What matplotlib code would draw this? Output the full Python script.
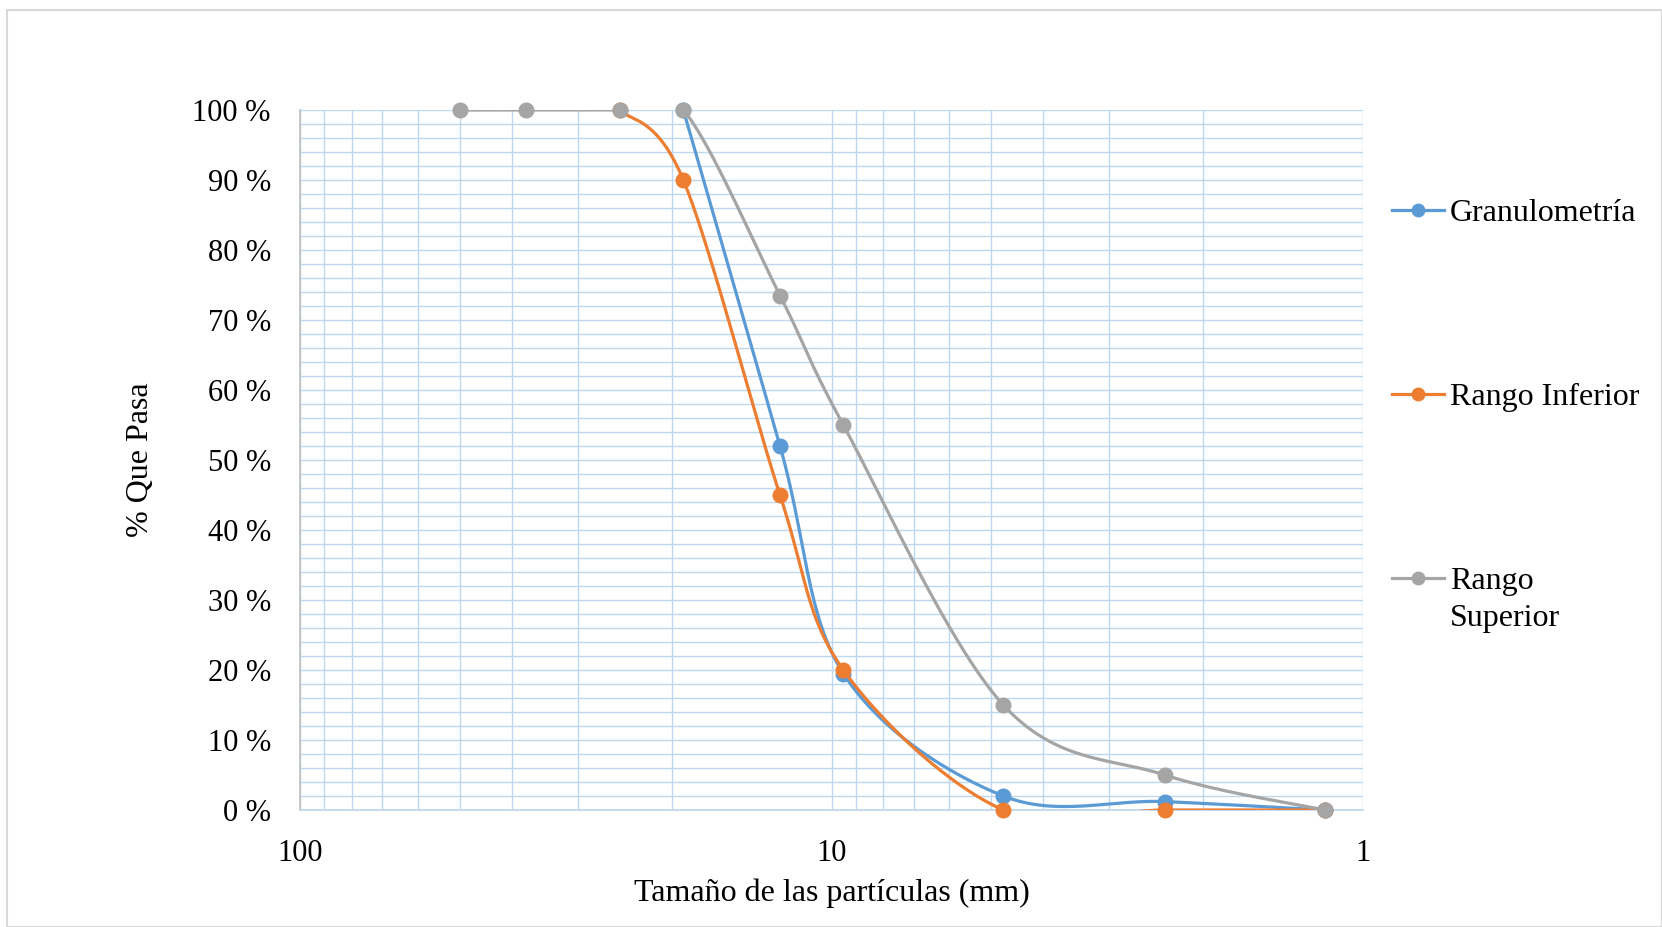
import numpy as np
import matplotlib
matplotlib.use("Agg")
import matplotlib.pyplot as plt
from matplotlib.lines import Line2D
from matplotlib.patches import Rectangle
from matplotlib.ticker import FixedLocator, MultipleLocator, FuncFormatter, NullFormatter

# ---- data ----
gran_size = [19, 12.5, 9.5, 4.75, 2.36, 1.18]
gran_pass = [100, 52, 19.5, 2, 1.2, 0]

inf_size = [25, 19, 12.5, 9.5, 4.75, 2.36, 1.18]
inf_pass = [100, 90, 45, 20, 0, 0, 0]

sup_size = [50, 37.5, 25, 19, 12.5, 9.5, 4.75, 2.36, 1.18]
sup_pass = [100, 100, 100, 100, 73.5, 55, 15, 5, 0]

series_names = ["Granulometría", "Rango Inferior", "Rango\nSuperior"]
colors = ["#5B9BD5", "#ED7D31", "#A5A5A5"]
x_ticks = [100, 10, 1]
x_tick_labels = ["100", "10", "1"]

plt.rcParams['font.family'] = ['Liberation Serif', 'DejaVu Serif']


def smooth(xs, ys, n=60):
    lx = np.log10(np.asarray(xs, float))
    y = np.asarray(ys, float)
    P = np.column_stack([lx, y])
    P = np.vstack([P[0], P, P[-1]])
    out = []
    for i in range(1, len(P) - 2):
        p0, p1, p2, p3 = P[i - 1], P[i], P[i + 1], P[i + 2]
        c1 = p1 + (p2 - p0) / 6.0
        c2 = p2 - (p3 - p1) / 6.0
        t = np.linspace(0, 1, n)[:, None]
        seg = ((1 - t) ** 3) * p1 + 3 * ((1 - t) ** 2) * t * c1 + 3 * (1 - t) * t ** 2 * c2 + t ** 3 * p2
        out.append(seg if i == 1 else seg[1:])
    out = np.vstack(out)
    return 10 ** out[:, 0], out[:, 1]


W, H = 1662, 927
fig = plt.figure(figsize=(W / 100, H / 100), dpi=100)
ax = fig.add_axes([300 / W, 1 - 810 / H, 1063 / W, 700 / H])

grid_c = "#BDD7EE"
ax.set_xscale("log")
ax.set_xlim(100, 1)
ax.set_ylim(0, 100)
ax.xaxis.set_major_locator(FixedLocator(x_ticks))
ax.xaxis.set_major_formatter(FuncFormatter(lambda v, p: x_tick_labels[x_ticks.index(round(v))] if round(v) in x_ticks else ""))
minor = [m * 10 ** d for d in [0, 1] for m in range(2, 10)]
ax.xaxis.set_minor_locator(FixedLocator(minor))
ax.xaxis.set_minor_formatter(NullFormatter())
ax.yaxis.set_major_locator(MultipleLocator(10))
ax.yaxis.set_minor_locator(MultipleLocator(2))
ax.yaxis.set_major_formatter(FuncFormatter(lambda v, p: f"{int(round(v))} %"))
ax.grid(True, which="both", color=grid_c, linewidth=1.0)
ax.set_axisbelow(True)
ax.tick_params(which="both", length=0)
ax.tick_params(axis="x", pad=21, labelsize=22)
ax.tick_params(axis="y", pad=21, labelsize=22)
for s in ["top", "right"]:
    ax.spines[s].set_visible(False)
ax.spines["left"].set_color("#BFBFBF")
ax.spines["left"].set_linewidth(1.2)
ax.spines["bottom"].set_color(grid_c)
ax.spines["bottom"].set_linewidth(1.2)

data = [(gran_size, gran_pass), (inf_size, inf_pass), (sup_size, sup_pass)]
for i in range(3):
    xs, ys = data[i]
    sx, sy = smooth(xs, ys)
    ax.plot(sx, sy, color=colors[i], linewidth=2.3, zorder=3 + i, solid_capstyle="round")
    ax.plot(xs, ys, linestyle="none", marker="o", markersize=10.5, color=colors[i],
            zorder=4 + i, clip_on=False)

ax.set_xlabel("Tamaño de las partículas (mm)", fontsize=23)
ax.set_ylabel("% Que Pasa", fontsize=23)
ax.xaxis.set_label_coords((832 - 300) / 1063, -(878 - 810) / 700)
ax.yaxis.set_label_coords(-(300 - 155) / 1063, (810 - 460) / 700)

# legend (manual)
leg_y = [210, 394, 578]
line_gap = 37
for i, yy in enumerate(leg_y):
    yf = 1 - yy / H
    fig.add_artist(Line2D([1392 / W, 1444 / W], [yf, yf], color=colors[i], linewidth=2.3,
                          transform=fig.transFigure))
    fig.add_artist(Line2D([1418 / W], [yf], color=colors[i], marker="o", markersize=9,
                          linestyle="none", transform=fig.transFigure))
    for k, part in enumerate(series_names[i].split("\n")):
        fig.text(1450 / W, 1 - (yy + k * line_gap) / H, part, fontsize=23,
                 va="center_baseline", ha="left", transform=fig.transFigure)

# outer border
fig.add_artist(Rectangle((7 / W, 0), 1 - 7 / W, 1 - 10 / H, transform=fig.transFigure,
                         fill=False, edgecolor="#D9D9D9", linewidth=1.5))

fig.savefig("out.png", dpi=100)
